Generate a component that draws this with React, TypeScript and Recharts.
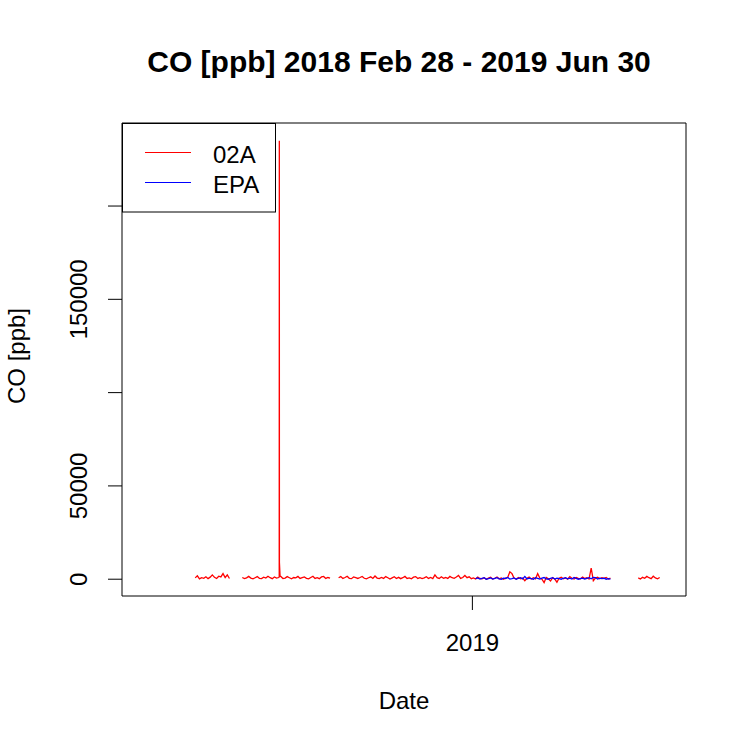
import React from 'react';
import { LineChart, Line, XAxis, YAxis, ReferenceArea, Legend, Label } from 'recharts';

// x values are days after 2018-02-28 00:00
const xDomain: [number, number] = [-20.4, 506.6];
const yDomain: [number, number] = [-9000, 244500];
const yTicks = [0, 50000, 100000, 150000, 200000];
const yTickLabels: Record<number, string> = { 0: '0', 50000: '50000', 150000: '150000' };
const xTicks = [307];
const xTickLabels = ['2019'];
const titleText = 'CO [ppb] 2018 Feb 28 - 2019 Jun 30';
const xLabelText = 'Date';
const yLabelText = 'CO [ppb]';
const seriesNames = ['02A', 'EPA'];
const seriesColors = ['#FF0000', '#0000FF'];

// 02A segments (every 2 days)
const red1Start = 48;
const red1 = [700, 1800, 200, 800, 500, 1300, 300, 1100, 2300, 1000, 400, 1600, 1200, 3000, 900, 2300, 400];
const red2Start = 92;
const red2 = [900, 300, 700, 1500, 600, 200, 800, 1400, 500, 300, 1100, 600, 1600, 800, 300, 1200, 600, 900,
  1500, 400, 600, 1400, 800, 200, 900, 700, 1500, 400, 800, 1200, 500, 200, 900, 1600, 400, 800, 300, 1200,
  1500, 400, 900, 600];
const redSpikeDays = [126.5, 126.6, 126.7, 127.3];
const redSpikeVals = [1200, 235000, 9000, 1500];
const red3Start = 182;
const red3 = [
  800, 1400, 400, 900, 1600, 500, 300, 1200, 800, 400,
  900, 1500, 500, 200, 800, 1300, 400, 1700, 600, 300,
  900, 400, 1400, 800, 100, 700, 1300, 400, 1000, 300,
  800, 1500, 400, 700, 200, 1100, 1400, 400, 800, 300,
  700, 1300, 400, 900, 300, 2300, 800, 400, 1300, 500,
  900, 400, 1500, 800, 500, 1200, 2000, 400, 900, 2000,
  800, 1300, 300, 700, 100, 1100, 400, 200, 800, 0,
  600, 1100, 100, 500, 1200, 200, 700, 0, 600, 900,
  4000, 3000, 500, 100, 900, 200, 600, -800, 500, 1100,
  100, 800, 200, 3000, 600, 0, -1800, 900, 200, -1000,
  800, 100, -1600, 500, 1100, 200, 700, 0, 1400, 500,
  100, 900, 500, 200, 1200, 400, 800, 100, 6000, -800,
  600, 1100, 200, 800, 400, 900, 100, 600,
];
const red4Start = 462;
const red4 = [700, 100, 1000, 500, 1500, 800, 300, 1600, 700, 200, 900];

// EPA (every 2 days)
const blueStart = 310;
const blue = [
  300, 700, 100, 500, 800, 0, 300, 700, 100, 500,
  800, 200, 0, 600, 400, 900, 100, 300, 700, 0,
  500, 800, 200, 1500, 100, 600, 300, 0, 800, 400,
  100, 600, 900, 200, 0, 500, 800, 100, 600, 300,
  0, 500, 800, 200, 600, 100, 900, 400, 0, 300,
  600, 100, 500, 800, 200, 1000, 900, 100, 600, 300,
  500, 0, 300, 100,
];

type Pt = { day: number; co: number | null };
const seg = (start: number, vals: number[]): Pt[] => vals.map((v, i) => ({ day: start + i * 2, co: v }));
const gap = (d: number): Pt => ({ day: d, co: null });

const redData: Pt[] = [
  ...seg(red1Start, red1),
  gap(86),
  ...[...seg(red2Start, red2), ...redSpikeDays.map((d, i) => ({ day: d, co: redSpikeVals[i] }))].sort((a, b) => a.day - b.day),
  gap(178),
  ...seg(red3Start, red3),
  gap(450),
  ...seg(red4Start, red4),
];
const blueData: Pt[] = seg(blueStart, blue);

const FONT = '"Liberation Sans", Arial, Helvetica, sans-serif';

const YTick = (props: any) => {
  const { x, y, payload } = props;
  const t = yTickLabels[payload.value];
  if (!t) return <g />;
  return (
    <text x={x - 19} y={y} transform={`rotate(-90 ${x - 19} ${y})`} textAnchor="middle" fontSize={24} fontFamily={FONT} fill="#000">
      {t}
    </text>
  );
};

const XTick = (props: any) => {
  const { x, y, payload } = props;
  const idx = xTicks.indexOf(payload.value);
  return (
    <text x={x} y={y + 39} textAnchor="middle" fontSize={24} fontFamily={FONT} fill="#000">
      {idx >= 0 ? xTickLabels[idx] : ''}
    </text>
  );
};

const XLabel = (props: any) => {
  const vb = props.viewBox || { x: 122, y: 596, width: 564, height: 154 };
  return (
    <text x={vb.x + vb.width / 2} y={vb.y + 113.3} textAnchor="middle" fontSize={24} fontFamily={FONT} fill="#000">
      {xLabelText}
    </text>
  );
};

const YLabel = (props: any) => {
  const vb = props.viewBox || { x: 0, y: 123, width: 122, height: 473 };
  const cx = vb.x + 25;
  const cy = vb.y + vb.height / 2 - 3.5;
  return (
    <text x={cx} y={cy} transform={`rotate(-90 ${cx} ${cy})`} textAnchor="middle" fontSize={24} fontFamily={FONT} fill="#000">
      {yLabelText}
    </text>
  );
};

const Title = (props: any) => {
  const vb = props.viewBox || { x: 122, y: 123, width: 564, height: 473 };
  return (
    <text x={vb.x + vb.width / 2 - 5} y={vb.y - 51.3} textAnchor="middle" fontSize={30} fontWeight="bold" fontFamily={FONT} fill="#000">
      {titleText}
    </text>
  );
};

const LegendBox = () => (
  <svg width={154} height={90} style={{ display: 'block' }}>
    <rect x={0.5} y={0.5} width={153} height={88.5} fill="#fff" stroke="#000" strokeWidth={1} />
    {seriesNames.map((n, i) => (
      <g key={n}>
        <line x1={23} x2={69} y1={29.5 + i * 30} y2={29.5 + i * 30} stroke={seriesColors[i]} strokeWidth={1} />
        <text x={91} y={40.3 + i * 29.7} fontSize={24} fontFamily={FONT} fill="#000">
          {n}
        </text>
      </g>
    ))}
  </svg>
);

export default function App() {
  return (
    <div style={{ position: 'absolute', left: 0, top: 0, width: 750, height: 750, background: '#fff', fontFamily: FONT }}>
      <LineChart width={750} height={750} margin={{ top: 123, right: 64, bottom: 0, left: 0 }}>
        <XAxis
          dataKey="day"
          type="number"
          domain={xDomain}
          ticks={xTicks}
          interval={0}
          tickSize={14}
          axisLine={false}
          tickLine={{ stroke: '#000' }}
          tick={XTick}
          height={154}
          allowDataOverflow
        >
          <Label content={XLabel} />
        </XAxis>
        <YAxis
          type="number"
          domain={yDomain}
          ticks={yTicks}
          interval={0}
          tickSize={14}
          axisLine={false}
          tickLine={{ stroke: '#000' }}
          tick={YTick}
          width={122}
          allowDataOverflow
        >
          <Label content={YLabel} />
        </YAxis>
        <Line data={redData} dataKey="co" stroke={seriesColors[0]} strokeWidth={1.3} dot={false} activeDot={false} isAnimationActive={false} />
        <Line data={blueData} dataKey="co" stroke={seriesColors[1]} strokeWidth={1.3} dot={false} activeDot={false} isAnimationActive={false} />
        <ReferenceArea
          x1={xDomain[0]}
          x2={xDomain[1]}
          y1={yDomain[0]}
          y2={yDomain[1]}
          fill="none"
          fillOpacity={0}
          stroke="#000"
          strokeWidth={1}
          ifOverflow="visible"
          label={Title}
        />
        <Legend
          content={LegendBox}
          layout="horizontal"
          verticalAlign="middle"
          align="center"
          wrapperStyle={{ left: 122, top: 123, width: 154, height: 90 }}
        />
      </LineChart>
    </div>
  );
}
